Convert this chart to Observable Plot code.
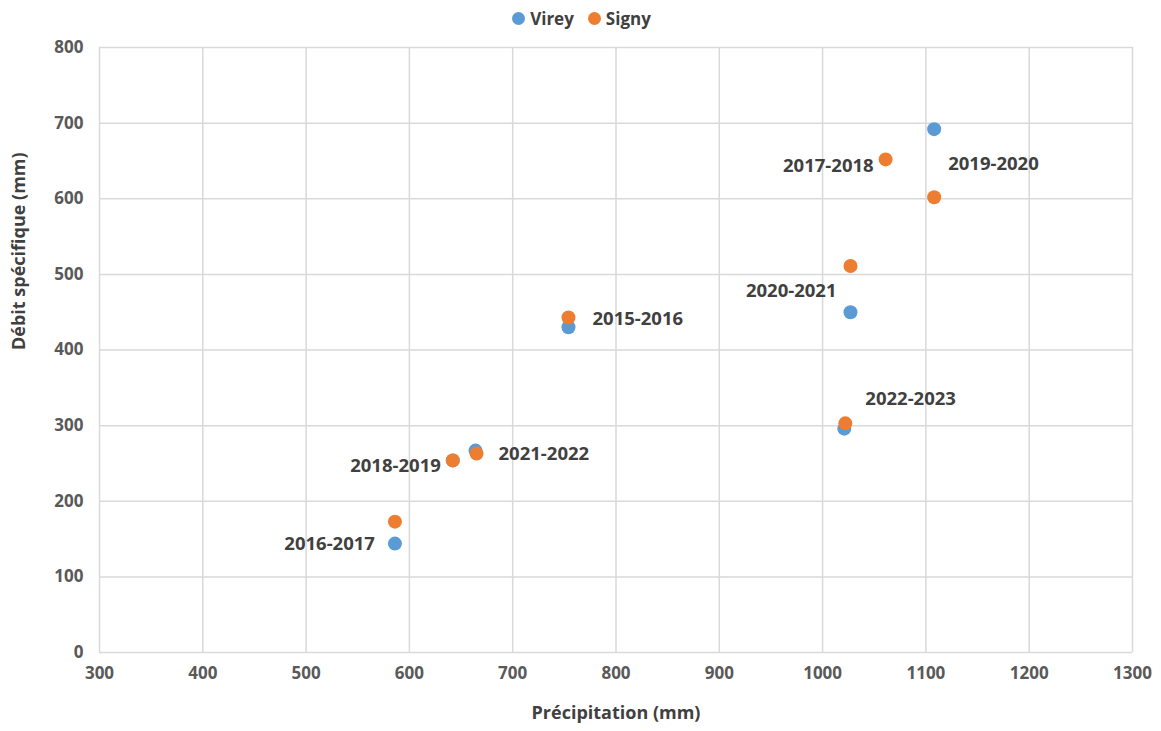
<!DOCTYPE html>
<html><head><meta charset="utf-8">
<script src="https://cdn.jsdelivr.net/npm/d3@7"></script>
<script src="https://cdn.jsdelivr.net/npm/@observablehq/plot@0.6"></script>
<style>
body{margin:0;background:#fff;font-family:"Open Sans",sans-serif;}
#legend{height:36px;display:flex;justify-content:center;align-items:center;gap:14px;font-weight:bold;font-size:17px;color:#404040;padding-left:2px;box-sizing:border-box}
#legend span{display:inline-flex;align-items:center;gap:5px}
#legend i{display:inline-block;width:13px;height:13px;border-radius:50%}
</style></head><body>
<div id="legend"><span><i style="background:#5b9bd5"></i>Virey</span><span><i style="background:#ed7d31"></i>Signy</span></div>
<div id="chart"></div>
<script>
const vireyX=[586,642,664,754,1021,1027,1108];
const vireyY=[144,254,267,430,296,450,692];
const signyX=[586,642,665,754,1022,1027,1061,1108];
const signyY=[173,254,263,443,303,511,652,602];
const labels=["2016-2017","2018-2019","2021-2022","2015-2016","2022-2023","2020-2021","2017-2018","2019-2020"];
const labelPos=[[-20,22,"end"],[-12,6,"end"],[22,0,"start"],[24,2,"start"],[20,-24,"start"],[-14,25,"end"],[-12,7,"end"],[14,-33,"start"]];
const xTicks=d3.range(300,1301,100), yTicks=d3.range(0,801,100);
const virey=vireyX.map((x,i)=>({x,y:vireyY[i]}));
const signy=signyX.map((x,i)=>({x,y:signyY[i],label:labels[i],dx:labelPos[i][0],dy:labelPos[i][1],anchor:labelPos[i][2]}));
const grid="#d9d9d9";
const p=Plot.plot({
  width:1161,height:695,marginLeft:99,marginRight:29,marginTop:11,marginBottom:79,
  style:{fontFamily:"'Open Sans',sans-serif",fontSize:"17px",fontWeight:"bold",color:"#595959"},
  x:{domain:[300,1300],label:null},
  y:{domain:[0,800],label:null},
  marks:[
    Plot.gridX(xTicks,{stroke:grid,strokeOpacity:1,strokeWidth:1.5}),
    Plot.gridY(yTicks,{stroke:grid,strokeOpacity:1,strokeWidth:1.5}),
    Plot.axisX({ticks:xTicks,tickFormat:d=>String(d),tickSize:0,tickPadding:14,fill:"#595959",label:null}),
    Plot.axisY({ticks:yTicks,tickFormat:d=>String(d),tickSize:0,tickPadding:16,fill:"#595959",label:null}),
    Plot.dot(virey,{x:"x",y:"y",r:7,fill:"#5b9bd5"}),
    Plot.dot(signy,{x:"x",y:"y",r:7,fill:"#ed7d31"}),
    ...signy.map(d=>Plot.text([d],{x:"x",y:"y",text:"label",dx:d.dx,dy:d.dy,textAnchor:d.anchor,fontSize:18.5,fontWeight:"bold",fill:"#404040"})),
    Plot.text(["Précipitation (mm)"],{frameAnchor:"bottom",dy:66,fontSize:18,fontWeight:"bold",fill:"#404040"}),
    Plot.text(["Débit spécifique (mm)"],{frameAnchor:"left",dx:-80,rotate:-90,fontSize:18,fontWeight:"bold",fill:"#404040"})
  ]
});
document.getElementById("chart").append(p);
</script></body></html>
